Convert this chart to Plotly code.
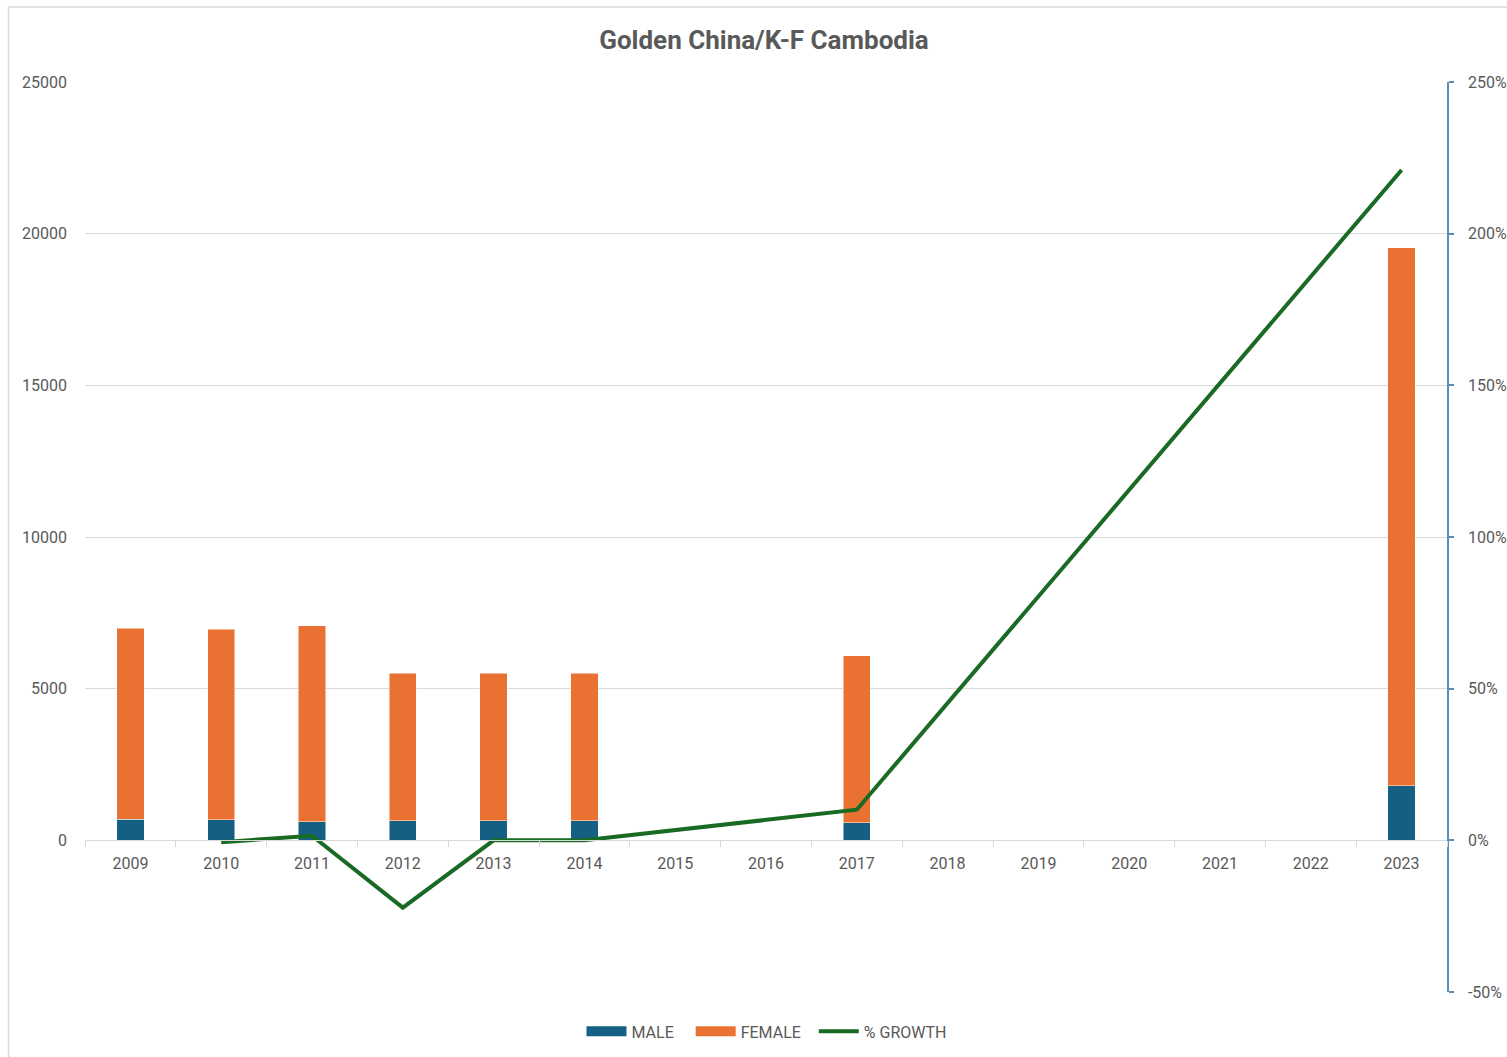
import plotly.graph_objects as go

years = ["2009", "2010", "2011", "2012", "2013", "2014", "2015", "2016",
         "2017", "2018", "2019", "2020", "2021", "2022", "2023"]
male = [690, 672, 617, 639, 639, 639, None, None, 573,
        None, None, None, None, None, 1796]
female = [6310, 6288, 6456, 4870, 4870, 4870, None, None, 5508,
          None, None, None, None, None, 17737]
growth = [None, -0.006, 0.015, -0.222, 0.0, 0.0, None, None, 0.101,
          None, None, None, None, None, 2.21]

left_ticks = [0, 5000, 10000, 15000, 20000, 25000]
right_ticks = [-0.5, 0.0, 0.5, 1.0, 1.5, 2.0, 2.5]
right_labels = ["-50%", "0%", "50%", "100%", "150%", "200%", "250%"]

C_MALE = "#156082"
C_FEMALE = "#E97132"
C_GROWTH = "#196B24"
TXT = "#595959"
GRID = "#D9D9D9"
AXIS2 = "#5B8DB5"
FONT = "Roboto"

# body margin is removed by a post script, so figure pixels == page pixels
W, H = 1507, 1057
PL, PR, PT, PB = 85, 1447, 82, 991.6  # plot area in page pixels
L = PL
R = W - PR
T = PT
B = H - PB
pw, ph = W - L - R, H - T - B


def px2x(px):
    return (px - L) / pw


def px2y(py):
    return (H - B - py) / ph


fig = go.Figure()
bar_line = dict(color="rgba(255,255,255,0.6)", width=0.8)
fig.add_trace(go.Bar(x=years, y=male, name="MALE", showlegend=False,
                     marker=dict(color=C_MALE, line=bar_line)))
fig.add_trace(go.Bar(x=years, y=female, name="FEMALE", showlegend=False,
                     marker=dict(color=C_FEMALE, line=bar_line)))
fig.add_trace(go.Scatter(x=years, y=growth, name="% GROWTH", mode="lines", yaxis="y2",
                         connectgaps=True, showlegend=False,
                         line=dict(color=C_GROWTH, width=4)))
# legend entries (wide rectangles like the original)
fig.add_trace(go.Scatter(x=[None], y=[None], name="MALE\u00a0\u00a0\u00a0", mode="lines",
                         line=dict(color=C_MALE, width=10)))
fig.add_trace(go.Scatter(x=[None], y=[None], name="FEMALE\u00a0\u00a0", mode="lines",
                         line=dict(color=C_FEMALE, width=10)))
fig.add_trace(go.Scatter(x=[None], y=[None], name="% GROWTH", mode="lines",
                         line=dict(color=C_GROWTH, width=4)))

fig.update_layout(
    width=W, height=H,
    margin=dict(l=L, r=R, t=T, b=B, autoexpand=False),
    paper_bgcolor="white", plot_bgcolor="white",
    barmode="stack", bargap=0.7,
    font=dict(family=FONT, size=16, color=TXT),
    title=dict(text="<b>Golden China/K-F Cambodia</b>", x=764 / W, xanchor="center",
               y=1 - 40 / H, yanchor="middle", font=dict(family=FONT, size=26, color=TXT)),
    xaxis=dict(type="category", anchor="free", position=5000 / 30000, automargin=False,
               showline=True, linecolor=GRID, linewidth=1,
               ticks="outside", tickson="boundaries", ticklen=6, tickcolor=GRID,
               ticklabelstandoff=8,
               showgrid=False, tickfont=dict(size=16, color=TXT)),
    yaxis=dict(range=[-5000, 25000], tickvals=left_ticks, tickformat="d", automargin=False,
               showgrid=True, gridcolor=GRID,
               gridwidth=1, zeroline=False, showline=False, ticks="",
               ticklabelstandoff=17, tickfont=dict(size=16, color=TXT)),
    yaxis2=dict(overlaying="y", side="right", range=[-0.5, 2.5], tickvals=right_ticks,
                ticktext=right_labels, showgrid=False, zeroline=False, showline=True,
                automargin=False,
                linecolor=AXIS2, linewidth=1.5, ticks="outside", ticklen=5, tickcolor=AXIS2,
                tickwidth=1.5, ticklabelstandoff=11, tickfont=dict(size=16, color=TXT)),
    legend=dict(orientation="h", x=px2x(767), xanchor="center", y=px2y(1031), yanchor="middle",
                font=dict(size=16, color=TXT), itemwidth=40, traceorder="normal"),
    shapes=[
        dict(type="line", xref="paper", yref="paper", x0=px2x(8), x1=px2x(1520),
             y0=px2y(7), y1=px2y(7), line=dict(color="#D9D9D9", width=1.5)),
        dict(type="line", xref="paper", yref="paper", x0=px2x(8.5), x1=px2x(8.5),
             y0=px2y(7), y1=px2y(1070), line=dict(color="#D9D9D9", width=1.5)),
    ],
)

fig.write_html("out.html",
               config={"displayModeBar": False},
               post_script="document.body.style.margin='0';document.body.style.overflow='hidden';")
